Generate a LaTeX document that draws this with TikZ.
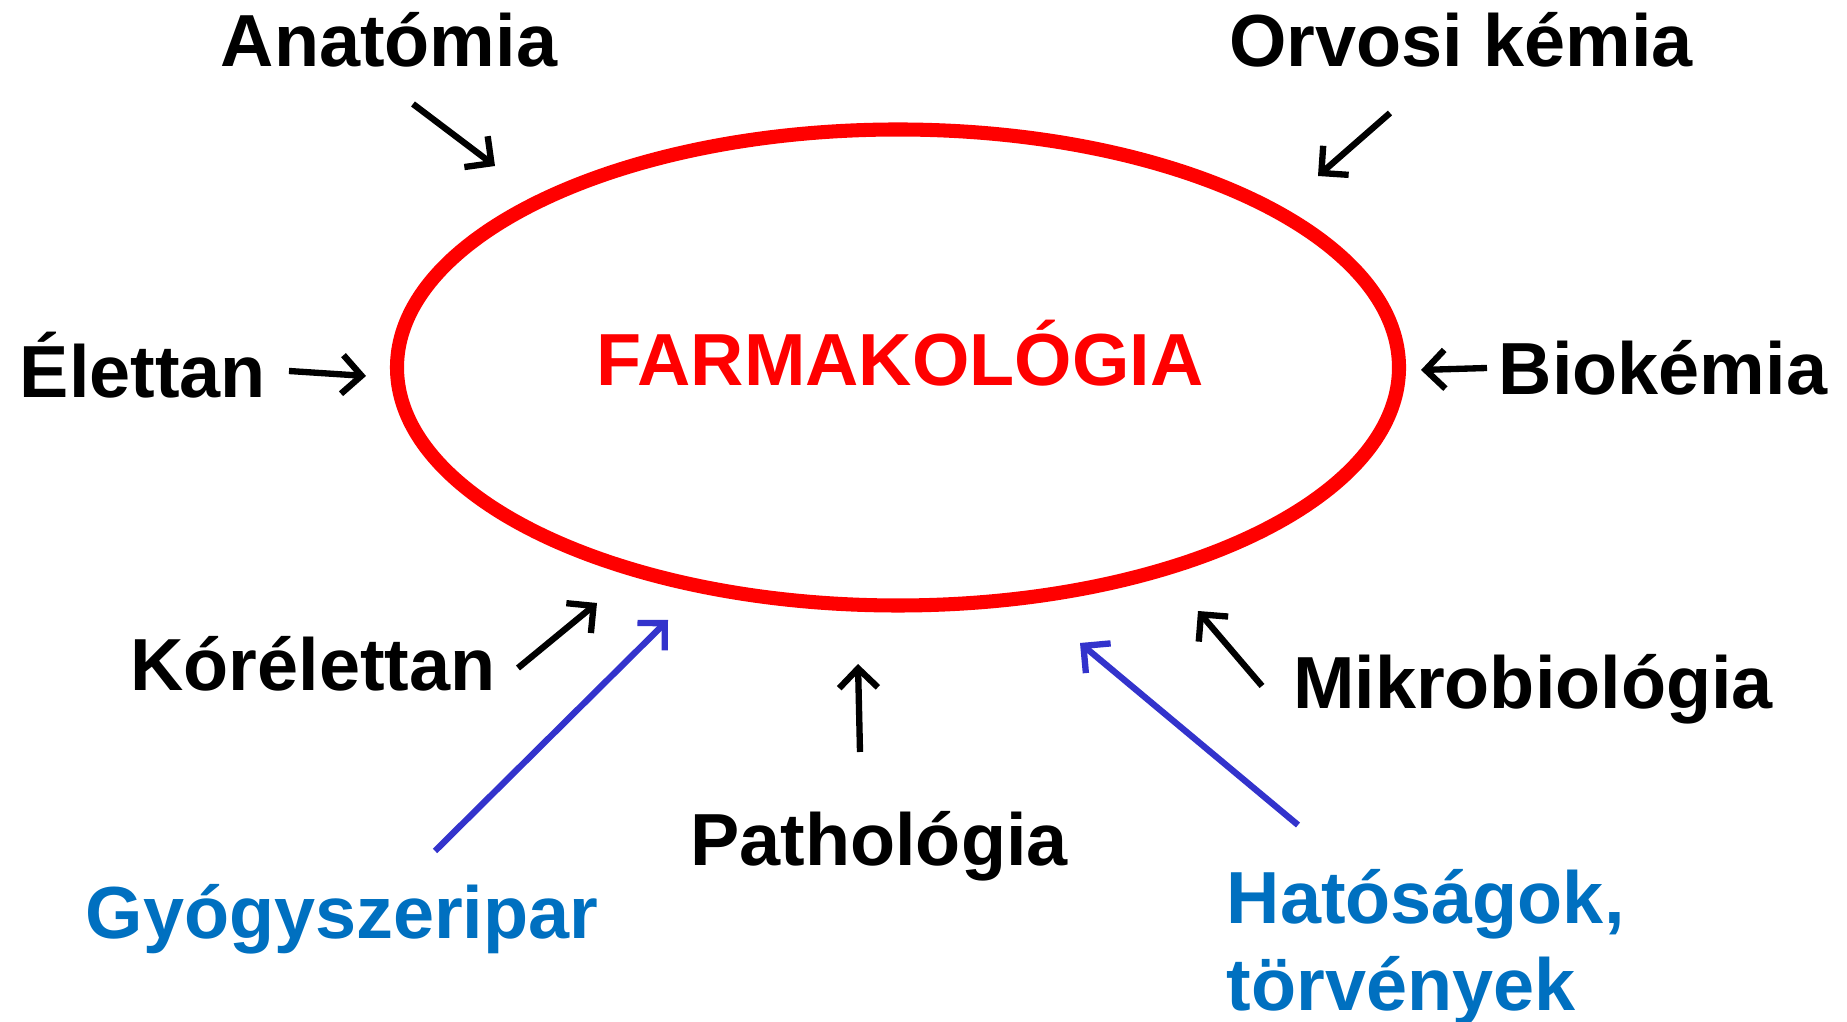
\documentclass[tikz,border=0pt]{standalone}
\usepackage{fontspec}
\setmainfont{Liberation Sans}
\usepackage{xcolor}
\usepackage{tikz}
\usetikzlibrary{arrows.meta,positioning,shapes.geometric}
\definecolor{farmred}{RGB}{255,0,0}
\definecolor{textblue}{RGB}{0,112,192}
\definecolor{arrowblue}{RGB}{51,51,204}

\begin{document}
\begin{tikzpicture}[font=\bfseries\fontsize{21}{25}\selectfont,
    lbl/.style={anchor=base,inner sep=0pt},
    feed/.style={line width=1.8pt,-{Straight Barb[length=5.5pt,width=11pt]}},
    bluefeed/.style={feed,draw=arrowblue}]
        \useasboundingbox (0,0) rectangle (18.47,10.22);
        % Central ellipse
        \node[ellipse,draw=farmred,line width=4pt,minimum width=10.02cm,minimum height=4.76cm,inner sep=0pt] (farm) at (8.98,6.545) {};
        \node[text=farmred,anchor=base] (farmtxt) at (9.00,6.36) {FARMAKOLÓGIA};
        % Source labels
        \node[lbl] (anat) at (3.89,9.55) {Anatómia};
        \node[lbl] (orv) at (14.61,9.55) {Orvosi kémia};
        \node[lbl] (elet) at (1.43,6.24) {Élettan};
        \node[lbl] (bio) at (16.63,6.27) {Biokémia};
        \node[lbl] (kor) at (3.13,3.31) {Kórélettan};
        \node[lbl] (mikro) at (15.33,3.13) {Mikrobiológia};
        \node[lbl] (path) at (8.79,1.56) {Pathológia};
        \node[lbl,text=textblue] (gyogy) at (3.42,0.83) {Gyógyszeripar};
        \node[anchor=base west,inner sep=0pt,align=left,text=textblue] (hat) at (12.26,0.11) {Hatóságok,\\törvények};
        % Arrow end points
        \coordinate (anatS) at (4.13,9.18);  \coordinate (anatE) at (4.95,8.56);
        \coordinate (orvS) at (13.90,9.09);  \coordinate (orvE) at (13.18,8.46);
        \coordinate (eletS) at (2.89,6.51);  \coordinate (eletE) at (3.66,6.46);
        \coordinate (bioS) at (14.87,6.54);  \coordinate (bioE) at (14.21,6.52);
        \coordinate (korS) at (5.18,3.54);   \coordinate (korE) at (5.97,4.19);
        \coordinate (mikroS) at (12.62,3.36); \coordinate (mikroE) at (11.98,4.11);
        \coordinate (pathS) at (8.60,2.70);  \coordinate (pathE) at (8.58,3.58);
        \coordinate (gyogyS) at (4.35,1.71); \coordinate (gyogyE) at (6.68,4.02);
        \coordinate (hatS) at (12.98,1.97);  \coordinate (hatE) at (10.80,3.79);
        % Arrows
        \foreach \src in {anat,orv,elet,bio,kor,mikro,path}{
          \draw[feed] (\src S) -- (\src E);
        }
        \foreach \src in {gyogy,hat}{
          \draw[bluefeed] (\src S) -- (\src E);
        }
      \end{tikzpicture}
\end{document}
